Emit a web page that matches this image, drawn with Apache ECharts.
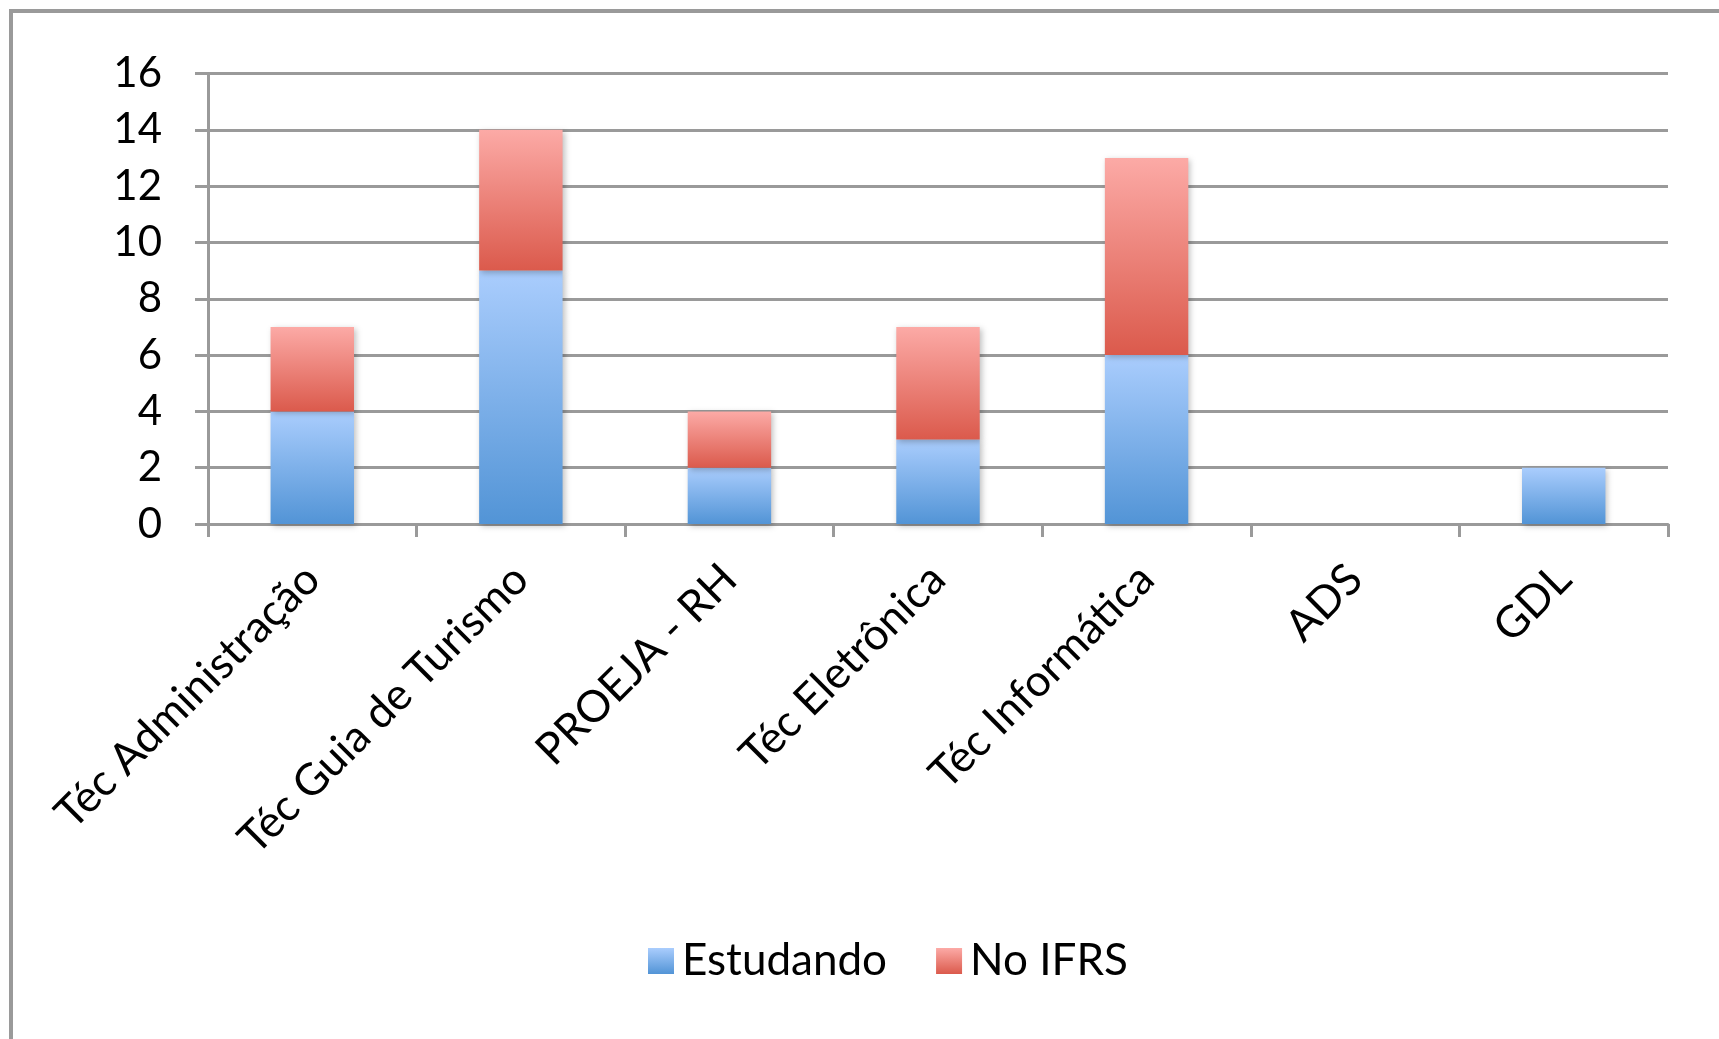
<!DOCTYPE html>
<html>
<head>
<meta charset="utf-8">
<script src="https://cdn.jsdelivr.net/npm/echarts@6/dist/echarts.min.js"></script>
<style>
html,body{margin:0;padding:0;background:#fff;}
#chart{width:1719px;height:1039px;}
</style>
</head>
<body>
<div id="chart"></div>
<script>
const categories = ['Téc Administração', 'Téc Guia de Turismo', 'PROEJA - RH', 'Téc Eletrônica', 'Téc Informática', 'ADS', 'GDL'];
const estudando = [4, 9, 2, 3, 6, 0, 2];
const noIFRS = [3, 5, 2, 4, 7, 0, 0];
const seriesNames = ['Estudando', 'No IFRS'];

const FONT = 'Lato';
const grayLine = '#9a9a9a';

function grad(top, bottom) {
  return new echarts.graphic.LinearGradient(0, 0, 0, 1, [
    { offset: 0, color: top },
    { offset: 1, color: bottom }
  ]);
}

const chart = echarts.init(document.getElementById('chart'));
chart.setOption({
  backgroundColor: '#fff',
  animation: false,
  graphic: [{
    type: 'rect',
    shape: { x: 11, y: 11, width: 1800, height: 1100 },
    style: { fill: 'none', stroke: grayLine, lineWidth: 4 },
    z: 0
  }],
  grid: { left: 208, right: 51, top: 73.5, bottom: 515, containLabel: false },
  legend: {
    data: seriesNames,
    left: 643,
    top: 934,
    itemWidth: 26,
    itemHeight: 26,
    itemGap: 49,
    icon: 'rect',
    textStyle: { fontFamily: FONT, fontSize: 44, color: '#000', padding: [0, 0, 0, 3] }
  },
  xAxis: {
    type: 'category',
    data: categories,
    axisLine: { show: true, lineStyle: { color: grayLine, width: 3 } },
    axisTick: { show: true, length: 13, lineStyle: { color: grayLine, width: 3 } },
    axisLabel: { rotate: 45, margin: 48, fontFamily: FONT, fontSize: 44, color: '#000', interval: 0 },
    splitLine: { show: false }
  },
  yAxis: {
    type: 'value',
    min: 0, max: 16, interval: 2,
    axisLine: { show: true, lineStyle: { color: grayLine, width: 3 } },
    axisTick: { show: true, length: 13, lineStyle: { color: grayLine, width: 3 } },
    axisLabel: { margin: 46, fontFamily: FONT, fontSize: 42, color: '#000' },
    splitLine: { show: true, lineStyle: { color: grayLine, width: 3 } }
  },
  series: [
    {
      name: seriesNames[0], type: 'bar', stack: 'total', data: estudando, barWidth: '40%',
      itemStyle: { color: grad('#aacdfd', '#5294d6'), shadowBlur: 6, shadowColor: 'rgba(0,0,0,0.25)', shadowOffsetX: 2, shadowOffsetY: 2 }
    },
    {
      name: seriesNames[1], type: 'bar', stack: 'total', data: noIFRS, barWidth: '40%',
      itemStyle: { color: grad('#fcaaa6', '#db5a4c'), shadowBlur: 6, shadowColor: 'rgba(0,0,0,0.25)', shadowOffsetX: 2, shadowOffsetY: 2 }
    }
  ]
});
</script>
</body>
</html>
